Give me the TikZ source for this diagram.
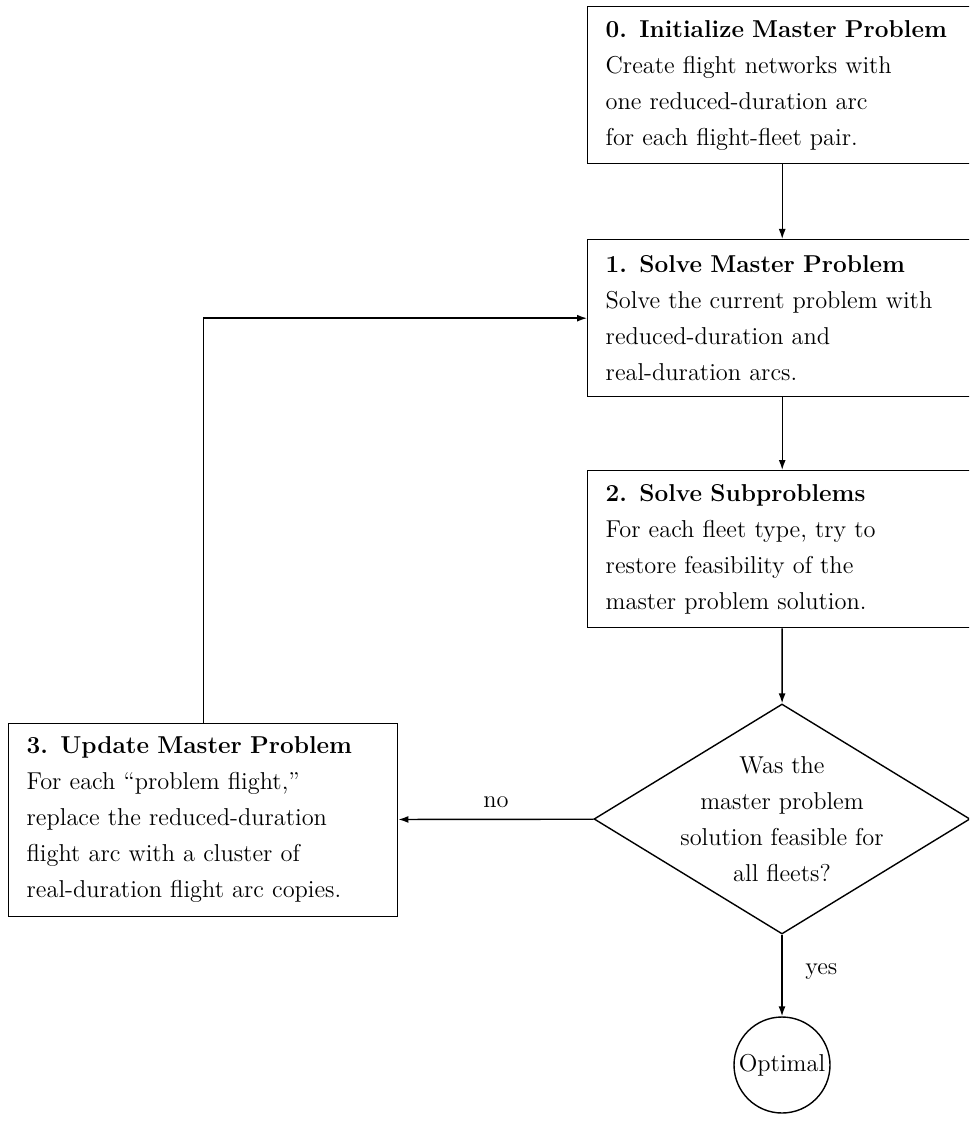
\documentclass[tikz,border=0pt]{standalone}
\usetikzlibrary{shapes.geometric,arrows.meta}
\begin{document}
\begin{tikzpicture}[x=0.5pt,y=-0.5pt,line width=0.7pt,
  every node/.style={font=\fontsize{12.2}{18}\selectfont},
  stepbox/.style={draw,anchor=north west,align=left,text width=176.5pt,inner xsep=9pt,inner ysep=0pt,minimum width=194.5pt,minimum height=78.5pt},
  tallbox/.style={stepbox,minimum height=96.5pt},
  test/.style={draw,diamond,inner sep=0pt,minimum width=188pt,minimum height=115pt},
  stop/.style={draw,circle,inner sep=0pt,minimum size=48pt},
  flow/.style={-{Latex[length=5pt,width=3.5pt]}}]
\useasboundingbox (0,0) rectangle (969,1122);
\clip (0,0) rectangle (969,1122);

\node[stepbox] (init) at (587,6) {\textbf{0. Initialize Master Problem}\\Create flight networks with\\one reduced-duration arc\\for each flight-fleet pair.};
\node[stepbox] (master) at (587,239) {\textbf{1. Solve Master Problem}\\Solve the current problem with\\reduced-duration and\\real-duration arcs.};
\node[stepbox] (sub) at (587,470) {\textbf{2. Solve Subproblems}\\For each fleet type, try to\\restore feasibility of the\\master problem solution.};
\node[tallbox] (update) at (8,722.5) {\textbf{3. Update Master Problem}\\For each ``problem flight,''\\replace the reduced-duration\\flight arc with a cluster of\\real-duration flight arc copies.};
\node[test,label={[align=center]center:Was the\\master problem\\solution feasible for\\all fleets?}] (feas) at (782,819) {};
\node[stop] (opt) at (782,1065) {Optimal};

\draw[flow] (init) -- (master);
\draw[flow] (master) -- (sub);
\draw[flow] (sub) -- (feas);
\draw[flow] (feas) -- node[above,yshift=2pt]{no} (update);
\draw[flow] (feas) -- node[right,xshift=8pt,pos=0.45]{yes} (opt);
\draw[flow] (update) |- (master);
\end{tikzpicture}
\end{document}
